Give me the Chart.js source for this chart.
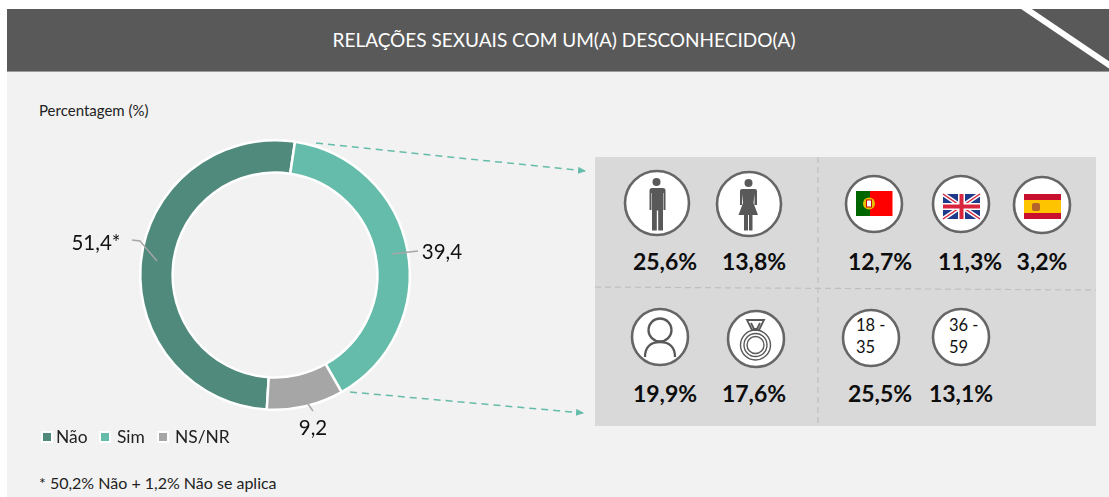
<!DOCTYPE html>
<html lang="pt"><head><meta charset="utf-8">
<style>
html,body{margin:0;padding:0;background:#fff}
#page{position:relative;width:1109px;height:497px;overflow:hidden;background:#fff;font-family:Lato,sans-serif;color:#111}
#bg{position:absolute;left:7px;top:9px;right:0;bottom:0;background:#f2f2f2}
#head{position:absolute;left:7px;top:9px;right:0;height:63px;background:#595959;color:#fff;text-align:center;line-height:62px;font-size:19px;padding-left:12px;border-bottom:1px solid #999;box-sizing:border-box}
#panel{position:absolute;left:595px;top:157px;width:501px;height:269px;background:#d9d9d9}
#wrap{position:absolute;left:0;top:105px;width:550px;height:340px}
svg#ov{position:absolute;left:0;top:0;width:1109px;height:497px}
.t{position:absolute;white-space:nowrap}
.v{position:absolute;font-weight:700;font-size:23px;transform:translateX(-50%);white-space:nowrap;line-height:26px;color:#0d0d0d}
.a{position:absolute;font-size:16.5px;line-height:33px;color:#111;white-space:pre}
.lg{position:absolute;top:428px;font-size:17.4px;line-height:18px;color:#222;white-space:nowrap}
.sw{position:absolute;top:431px;width:8px;height:8px;border:2px solid #fff}
</style></head>
<body><div id="page">
<div id="bg"></div>
<div id="head">RELAÇÕES SEXUAIS COM UM(A) DESCONHECIDO(A)</div>
<div id="panel"></div>
<svg id="ov" viewBox="0 0 1109 497" xmlns="http://www.w3.org/2000/svg"></svg>
<div class="t" style="left:39px;top:101px;font-size:15px;line-height:18px;color:#222">Percentagem (%)</div>
<div class="t" style="left:39px;top:474px;font-size:16px;line-height:18px;color:#222">* 50,2% Não + 1,2% Não se aplica</div>
<div id="wrap"><canvas id="c"></canvas></div>
</div>
<script src="https://cdn.jsdelivr.net/npm/chart.js@4/dist/chart.umd.min.js"></script>
<script>
const categories = ["Não", "Sim", "NS/NR"];
const seriesValues = [51.4, 39.4, 9.2];
const sliceColors = ["#4f8a7c", "#66bcaa", "#a6a6a6"];
const sliceLabels = ["51,4*", "39,4", "9,2"];
const panelValues = ["25,6%", "13,8%", "12,7%", "11,3%", "3,2%", "19,9%", "17,6%", "25,5%", "13,1%"];
const ageGroups = ["18 -\n35", "36 -\n59"];

const labelLayout = [
  {text:[-179,-32], line:[[-143,-35],[-135,-34],[-118,-14]]},
  {text:[167,-23], line:[[143,-24],[117,-21]]},
  {text:[38,153], line:[[33,129],[38,136]]}
];
const labelPlugin = {
  id:'sliceLabels',
  afterDatasetsDraw(chart){
    const ctx = chart.ctx, arc = chart.getDatasetMeta(0).data[0];
    const cx = arc.x, cy = arc.y;
    ctx.save();
    labelLayout.forEach((l,i)=>{
      ctx.strokeStyle = '#a6a6a6'; ctx.lineWidth = 1.4;
      ctx.beginPath();
      l.line.forEach((p,j)=> j ? ctx.lineTo(cx+p[0],cy+p[1]) : ctx.moveTo(cx+p[0],cy+p[1]));
      ctx.stroke();
      ctx.fillStyle = '#111'; ctx.font = '20.5px Lato'; ctx.textAlign='center'; ctx.textBaseline='middle';
      ctx.fillText(sliceLabels[i], cx+l.text[0], cy+l.text[1]);
    });
    ctx.restore();
  }
};
new Chart(document.getElementById('c'), {
  type:'doughnut',
  data:{labels:categories, datasets:[{data:seriesValues, backgroundColor:sliceColors, borderColor:'#ffffff', borderWidth:2.5}]},
  options:{
    responsive:true, maintainAspectRatio:false, animation:false, cutout:'76%', rotation:-176.5,
    layout:{padding:{left:34,right:34,top:34,bottom:34}},
    plugins:{tooltip:{enabled:false},legend:{display:false}}
  },
  plugins:[labelPlugin]
});

/* legend, built from the same arrays */
const page=document.getElementById('page');
const lgPos=[[41,56],[99,117],[157,175]];
categories.forEach((c,i)=>{
  const b=document.createElement('div');b.className='sw';b.style.left=lgPos[i][0]+'px';b.style.background=sliceColors[i];page.appendChild(b);
  const d=document.createElement('div');d.className='lg';d.style.left=lgPos[i][1]+'px';d.textContent=c;page.appendChild(d);
});

/* panel artwork */
const ov=document.getElementById('ov');
const circle=(x,y,r)=>`<circle cx="${x}" cy="${y}" r="${r}" fill="#fff" stroke="#666" stroke-width="2.6"/>`;
let s=`<defs><marker id="ah" markerWidth="8" markerHeight="8" refX="7" refY="3.5" orient="auto" markerUnits="userSpaceOnUse"><path d="M0 0L8 3.5L0 7Z" fill="#66bcaa"/></marker></defs>`;
s+=`<path d="M1022 6L1112 67" stroke="#fff" stroke-width="6"/>`;
s+=`<path d="M316 143L585 171" stroke="#66bcaa" stroke-width="1.5" stroke-dasharray="7 5" fill="none" marker-end="url(#ah)"/>`;
s+=`<path d="M350 392L583 413" stroke="#66bcaa" stroke-width="1.5" stroke-dasharray="7 5" fill="none" marker-end="url(#ah)"/>`;
s+=`<path d="M818 157V426M595 287L1096 290" stroke="#bfbfbf" stroke-width="1.2" stroke-dasharray="6 4" fill="none"/>`;
/* man */
s+=circle(657,203,32);
s+=`<g fill="#595959"><circle cx="656.500" cy="182" r="4"/><path d="M650 188h13a2.500 2.500 0 0 1 2.500 2.500V210h-2v-17h-.5v37.500h-4.800v-20h-1.400v20h-4.800V193h-.5v17h-2v-19.500a2.500 2.500 0 0 1 2.500-2.500z"/></g>`;
/* woman */
s+=circle(749,204,32);
s+=`<g fill="#595959"><circle cx="748.500" cy="183" r="4"/><path d="M742 189h13a2 2 0 0 1 2 2v14h-2.500v-11l-1 9 4.500 12h-5.500v15.500h-3.500V215h-1v15.500H744V215h-5.500l4.500-12-1-9v11H740v-14a2 2 0 0 1 2-2z"/></g>`;
/* Portugal */
s+=circle(874,204,28);
s+=`<rect x="856" y="191" width="14" height="25" fill="#006600"/><rect x="870" y="191" width="22.500" height="25" fill="#ff0000"/><circle cx="869" cy="203.500" r="6" fill="#e8c200"/><rect x="866.500" y="200" width="5" height="7" fill="#fff" stroke="#c00" stroke-width="1"/>`;
/* UK */
s+=circle(961,204,28);
s+=`<rect x="943" y="194" width="37" height="25" fill="#1f3a8a"/><path d="M943 194L980 219M980 194L943 219" stroke="#fff" stroke-width="4.500"/><path d="M943 194L980 219M980 194L943 219" stroke="#d8243c" stroke-width="1.500"/><path d="M961.500 194V219M943 206.500H980" stroke="#fff" stroke-width="7"/><path d="M961.500 194V219M943 206.500H980" stroke="#d8243c" stroke-width="4"/>`;
/* Spain */
s+=circle(1042,205,28);
s+=`<rect x="1024" y="194" width="37" height="25" fill="#c8102e"/><rect x="1024" y="200" width="37" height="13" fill="#ffc400"/><rect x="1032" y="203" width="8" height="8" rx="2" fill="#b5652a"/>`;
/* person */
s+=circle(660,337,28);
s+=`<g fill="none" stroke="#595959" stroke-width="2.300"><circle cx="660" cy="330" r="11.500"/><path d="M645 357c0-11 7-15 15-15s15 4 15 15"/></g>`;
/* ring */
s+=circle(756,339,28);
s+=`<g fill="none" stroke="#595959" stroke-width="1.400"><circle cx="755.500" cy="345" r="15"/><circle cx="755.500" cy="345" r="11.500"/><circle cx="755.500" cy="345" r="8.500"/></g><path d="M747 320h17l-5 10h-7zM751 323l3 6h3l3-6" fill="#fff" stroke="#595959" stroke-width="1.800"/>`;
/* age circles */
s+=circle(871,338,28)+circle(961,337,28);
ov.innerHTML=s;

const vPos=[[665,248],[754,248],[880,248],[970,248],[1042,248],[665,380],[754,380],[880,380],[961,380]];
panelValues.forEach((v,i)=>{
  const d=document.createElement('div');d.className='v';d.textContent=v;
  d.style.left=vPos[i][0]+'px';d.style.top=vPos[i][1]+'px';page.appendChild(d);
});
const aPos=[[856,309],[949,309]];
ageGroups.forEach((v,i)=>{
  v.split('\n').forEach((line,j)=>{
    const d=document.createElement('div');d.className='a';d.textContent=line;
    d.style.left=aPos[i][0]+'px';d.style.top=(aPos[i][1]+j*22)+'px';page.appendChild(d);
  });
});
</script>
</body></html>
